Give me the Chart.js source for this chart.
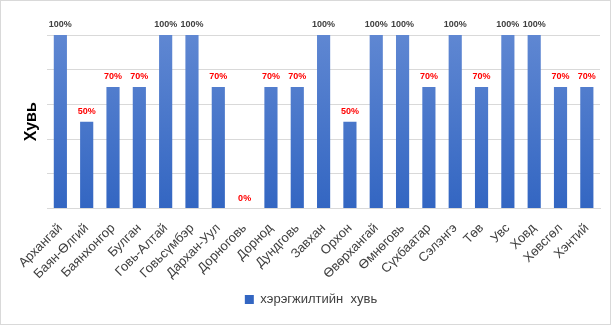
<!DOCTYPE html>
<html>
<head>
<meta charset="utf-8">
<script src="https://cdn.jsdelivr.net/npm/chart.js@4"></script>
<style>
  html, body { margin: 0; padding: 0; background: #fff; }
  #wrap { position: relative; width: 609px; height: 323px; border: 1px solid #d9d9d9; }
</style>
</head>
<body>
<div id="wrap"><canvas id="chart" width="609" height="323"></canvas></div>
<script>
// аймгууд
const categories = ["Архангай", "Баян-Өлгий", "Баянхонгор", "Булган", "Говь-Алтай", "Говьсүмбэр",
  "Дархан-Уул", "Дорноговь", "Дорнод", "Дундговь", "Завхан", "Орхон", "Өвөрхангай", "Өмнөговь",
  "Сүхбаатар", "Сэлэнгэ", "Төв", "Увс", "Ховд", "Хөвсгөл", "Хэнтий"];
const values = [100, 50, 70, 70, 100, 100, 70, 0, 70, 70, 100, 50, 100, 100, 70, 100, 70, 100, 100, 70, 70];
const seriesName = "хэрэгжилтийн  хувь";
const yTicks = [0, 20, 40, 60, 80, 100];

// шошго баганын дээр
const valueLabels = {
  id: "valueLabels",
  afterDatasetsDraw(chart){
    const ctx = chart.ctx;
    const meta = chart.getDatasetMeta(0);
    ctx.save();
    ctx.font = "bold 9px 'Liberation Sans', Arial, sans-serif";
    ctx.textAlign = "center";
    ctx.textBaseline = "bottom";
    meta.data.forEach((bar, i) => {
      const v = values[i];
      ctx.fillStyle = v === 100 ? "#404040" : "#ff0000";
      ctx.fillText(v + "%", bar.x, bar.y - 6);
    });
    ctx.restore();
  }
};

const ctx = document.getElementById("chart").getContext("2d");

new Chart(ctx, {
  type: "bar",
  data: {
    labels: categories,
    datasets: [{
      label: seriesName,
      data: values,
      backgroundColor: (c) => {
        const area = c.chart.chartArea;
        if(!area) return "#4472c4";
        const g = c.chart.ctx.createLinearGradient(0, area.top, 0, area.bottom);
        g.addColorStop(0, "#5f87d2");
        g.addColorStop(1, "#3366c2");
        return g;
      },
      barPercentage: 0.5,
      categoryPercentage: 1
    }]
  },
  options: {
    responsive: false,
    animation: false,
    layout: { padding: { top: 34, right: 10, left: 21, bottom: 8 } },
    plugins: {
      legend: {
        position: "bottom",
        labels: {
          boxWidth: 9, boxHeight: 9, color: "#404040",
          font: { family: "'Liberation Sans', Arial, sans-serif", size: 13 },
          padding: 7
        }
      },
      tooltip: { enabled: false }
    },
    scales: {
      x: {
        grid: { display: false },
        border: { color: "#d9d9d9" },
        ticks: {
          color: "#404040", maxRotation: 45, minRotation: 45, autoSkip: false, padding: 4,
          font: { family: "'Liberation Sans', Arial, sans-serif", size: 13 }
        }
      },
      y: {
        min: 0, max: 100,
        afterBuildTicks: (axis) => { axis.ticks = yTicks.map(v => ({ value: v })); },
        ticks: { display: false },
        grid: { color: "#d9d9d9", drawTicks: false },
        border: { display: false },
        title: {
          display: true, text: "Хувь", color: "#000", padding: { top: 0, bottom: 6 },
          font: { family: "'Liberation Sans', Arial, sans-serif", size: 16, weight: "bold" }
        }
      }
    }
  },
  plugins: [valueLabels]
});
</script>
</body>
</html>
